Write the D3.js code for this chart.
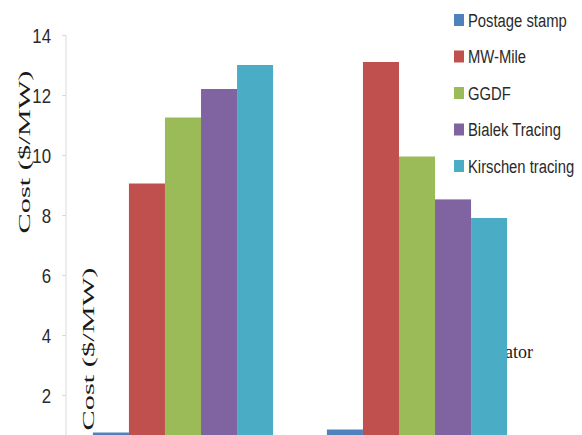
<!DOCTYPE html>
<html>
<head>
<meta charset="utf-8">
<script src="https://cdn.jsdelivr.net/npm/d3@7"></script>
<style>
  html, body { margin: 0; padding: 0; background: #fff; }
  svg { display: block; }
</style>
</head>
<body>
<div id="chart"></div>
<script>
// ---- data ----
const categories = ["Generator", "Load"];
const seriesNames = ["Postage stamp", "MW-Mile", "GGDF", "Bialek Tracing", "Kirschen tracing"];
const postageStamp = [0.75, 0.85];
const mwMile = [9.05, 13.1];
const ggdf = [11.25, 9.95];
const bialek = [12.2, 8.52];
const kirschen = [13.0, 7.9];
const yTicks = [2, 4, 6, 8, 10, 12, 14];
const yTitle = "Cost ($/MW)";

const seriesValues = [postageStamp, mwMile, ggdf, bialek, kirschen];
const colors = ["#4F81BD", "#C0504D", "#9BBB59", "#8064A2", "#4BACC6"];

const W = 582, H = 435;
const sansFont = "Liberation Sans, Arial, sans-serif";
const serifFont = "Liberation Serif, DejaVu Serif, serif";

const svg = d3.select("#chart").append("svg").attr("width", W).attr("height", H);

const x0 = d3.scaleBand().domain(categories).range([66, 534]).paddingInner(0.23).paddingOuter(0.115);
const x1 = d3.scaleBand().domain(seriesNames).range([0, x0.bandwidth()]).padding(0);
const y = d3.scaleLinear().domain([0, 14]).range([455, 35]);
const color = d3.scaleOrdinal().domain(seriesNames).range(colors);

// background texts (partially hidden behind bars)
svg.append("text")
  .attr("x", 505).attr("y", 358)
  .attr("font-family", serifFont)
  .attr("font-size", 18).attr("fill", "#1a1a1a")
  .text("ator");

svg.append("text")
  .attr("transform", "translate(94,349) rotate(-90)")
  .attr("text-anchor", "middle")
  .attr("font-family", serifFont)
  .attr("font-size", 17).attr("fill", "#1a1a1a")
  .attr("textLength", 163).attr("lengthAdjust", "spacingAndGlyphs")
  .text(yTitle);

// y axis
const yAxis = svg.append("g")
  .attr("transform", "translate(66,0)")
  .call(d3.axisLeft(y).tickValues(yTicks).tickSize(4).tickPadding(0).tickFormat(d3.format("d")));
yAxis.select(".domain").attr("stroke", "#d9d9d9").attr("d", "M0," + y(14) + "V435");
yAxis.selectAll(".tick line").attr("stroke", "#d9d9d9");
yAxis.selectAll(".tick text")
  .attr("x", null)
  .attr("font-family", sansFont)
  .attr("font-size", 21).attr("fill", "#2a2a2a")
  .attr("text-anchor", "end")
  .attr("dy", "0.35em")
  .attr("transform", "translate(-15,0) scale(0.8,1)");

// main y title
svg.append("text")
  .attr("transform", "translate(30,152) rotate(-90)")
  .attr("text-anchor", "middle")
  .attr("font-family", serifFont)
  .attr("font-size", 17).attr("fill", "#1a1a1a")
  .attr("textLength", 163).attr("lengthAdjust", "spacingAndGlyphs")
  .text(yTitle);

// bars
const groups = svg.append("g").selectAll("g")
  .data(categories)
  .join("g")
  .attr("transform", d => "translate(" + x0(d) + ",0)");

groups.selectAll("rect")
  .data((d, i) => seriesNames.map((s, j) => ({ series: s, value: seriesValues[j][i] })))
  .join("rect")
  .attr("x", d => x1(d.series))
  .attr("width", x1.bandwidth())
  .attr("y", d => y(d.value))
  .attr("height", d => y(0) - y(d.value))
  .attr("fill", d => color(d.series));

// legend
const legend = svg.append("g").attr("transform", "translate(454,20)");
const item = legend.selectAll("g")
  .data(seriesNames)
  .join("g")
  .attr("transform", (d, i) => "translate(0," + (i * 36.5) + ")");
item.append("rect")
  .attr("x", 0).attr("y", -6).attr("width", 10).attr("height", 12)
  .attr("fill", d => color(d));
item.append("text")
  .attr("x", 0).attr("y", 0).attr("dy", "0.35em")
  .attr("transform", "translate(14,0) scale(0.78,1)")
  .attr("font-family", sansFont)
  .attr("font-size", 19).attr("fill", "#2a2a2a")
  .text(d => d);
</script>
</body>
</html>
